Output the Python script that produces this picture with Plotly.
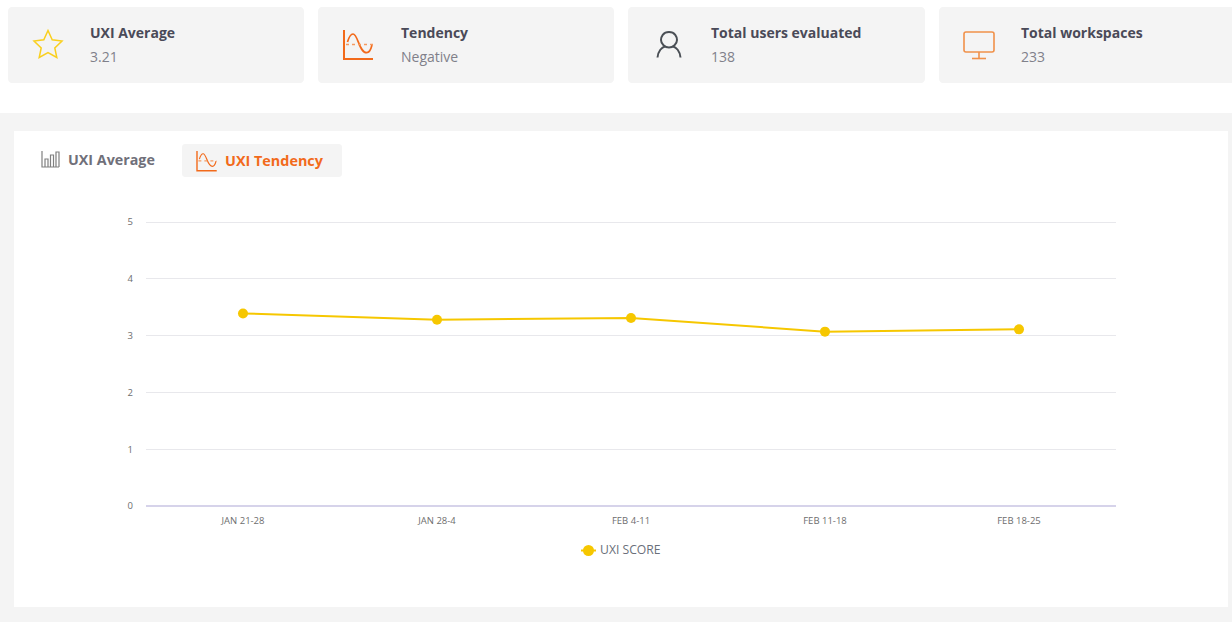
import plotly.graph_objects as go

W, H = 1232, 622
categories = ["JAN 21-28", "JAN 28-4", "FEB 4-11", "FEB 11-18", "FEB 18-25"]
uxi_score = [3.39, 3.28, 3.31, 3.07, 3.11]
y_ticks = [0, 1, 2, 3, 4, 5]
card_titles = ["UXI Average", "Tendency", "Total users evaluated", "Total workspaces"]
card_values = ["3.21", "Negative", "138", "233"]
tab_labels = ["UXI Average", "UXI Tendency"]
series_name = "UXI SCORE"

FONT = "Open Sans"
YEL = "#f6c700"
ORG = "#f26a1b"


def X(p):
    return round(p / W, 5)


def Y(p):
    return round(1 - p / H, 5)


def path(*parts):
    out = []
    for part in parts:
        if isinstance(part, str):
            out.append(part)
        else:
            out.append(f"{X(part[0])},{Y(part[1])}")
    return " ".join(out)


def rrect(x0, y0, x1, y1, r=4):
    k = r * 0.45
    return path("M", (x0 + r, y0), "L", (x1 - r, y0),
                "C", (x1 - k, y0), (x1, y0 + k), (x1, y0 + r),
                "L", (x1, y1 - r),
                "C", (x1, y1 - k), (x1 - k, y1), (x1 - r, y1),
                "L", (x0 + r, y1),
                "C", (x0 + k, y1), (x0, y1 - k), (x0, y1 - r),
                "L", (x0, y0 + r),
                "C", (x0, y0 + k), (x0 + k, y0), (x0 + r, y0), "Z")


shapes = []


def fill(d, color):
    shapes.append(dict(type="path", xref="paper", yref="paper", path=d, fillcolor=color,
                       line=dict(width=0), layer="below"))


def stroke(d, color, w=1.5):
    shapes.append(dict(type="path", xref="paper", yref="paper", path=d,
                       line=dict(color=color, width=w), layer="below"))


def tendency_icon(x, y, s, w):
    P = lambda a, b: (x + a * s, y + b * s)
    stroke(path("M", P(0, 0), "L", P(0, 29), "L", P(29, 29)), ORG, w)
    stroke(path("M", P(3.5, 12), "C", P(5, 7), P(7, 4), P(9, 4),
                "C", P(14, 4), P(15, 22.7), P(22.7, 22.7), "C", P(25, 22.7), P(27, 19), P(28, 15)), ORG, w * 0.85)
    shapes.append(dict(type="path", xref="paper", yref="paper",
                       path=path("M", P(2, 14.5), "L", P(29, 14.5)),
                       line=dict(color="#f59a60", width=w * 0.8, dash="dot"), layer="below"))


# page background pieces
fill(path("M", (0, 113), "L", (W, 113), "L", (W, H), "L", (0, H), "Z"), "#f4f4f4")
fill(path("M", (14, 131), "L", (1228, 131), "L", (1228, 607), "L", (14, 607), "Z"), "#ffffff")

# KPI cards
card_x = [(8, 304), (318, 614), (628, 925), (939, 1240)]
for a, b in card_x:
    fill(rrect(a, 7, b, 83), "#f4f4f4")

# star icon
stroke(path("M", (48, 30.5), "L", (52.2, 39.8), "L", (62, 41), "L", (54.8, 48), "L", (56.8, 57.5),
            "L", (48, 52.7), "L", (39.2, 57.5), "L", (41.2, 48), "L", (34, 41), "L", (43.8, 39.8), "Z"),
       "#f9cf1e", 1.5)
tendency_icon(344, 30, 1.0, 2)
# user icon
stroke(path("M", (669, 32), "C", (675, 32), (677, 37), (677, 40), "C", (677, 44), (673, 47.5), (669, 47.5),
            "C", (665, 47.5), (661, 44), (661, 40), "C", (661, 37), (663, 32), (669, 32), "Z"), "#4a4f55", 2)
stroke(path("M", (657.5, 57.5), "C", (658, 51), (662, 47), (665, 46.5)), "#4a4f55", 2)
stroke(path("M", (680.5, 57.5), "C", (680, 51), (676, 47), (673, 46.5)), "#4a4f55", 2)
# monitor icon
stroke(rrect(964, 32, 994, 52, 2), "#f0914a", 1.6)
stroke(path("M", (979, 52), "L", (979, 58)), "#f0914a", 1.6)
stroke(path("M", (972, 58.5), "L", (986, 58.5)), "#f0914a", 1.6)

# tabs
fill(rrect(182, 144, 342, 177, 3), "#f4f4f4")
G = "#808080"
stroke(path("M", (42, 151), "L", (42, 167), "L", (59, 167)), G, 1.2)
for a, b, top in [(45, 48, 159), (50.5, 53.5, 155), (56, 59, 152)]:
    stroke(path("M", (a, 167), "L", (a, top), "L", (b, top), "L", (b, 167)), G, 1.2)
tendency_icon(197, 151, 0.68, 1.4)

# legend key
stroke(path("M", (581, 550.5), "L", (596, 550.5)), YEL, 2)
shapes.append(dict(type="circle", xref="paper", yref="paper", x0=X(583), x1=X(594), y0=Y(556), y1=Y(545),
                   fillcolor=YEL, line=dict(width=0), layer="below"))

annotations = []


def txt(px, py, s, size, color, bold=False, anchor="left"):
    annotations.append(dict(xref="paper", yref="paper", x=X(px), y=Y(py), text=f"<b>{s}</b>" if bold else s,
                            showarrow=False, xanchor=anchor, yanchor="middle", borderpad=0, borderwidth=0,
                            font=dict(family=FONT, size=size, color=color)))


text_x = [90, 401, 711, 1021]
for tx, title, value in zip(text_x, card_titles, card_values):
    txt(tx, 32, title, 14, "#4a4a58", bold=True)
    txt(tx, 56.5, value, 14, "#80808a")

txt(68, 160, tab_labels[0], 14.3, "#70707a", bold=True)
txt(225, 160.5, tab_labels[1], 14.4, ORG, bold=True)
txt(600, 550, series_name, 12.2, "#6a6f7a")

fig = go.Figure(go.Scatter(
    x=categories, y=uxi_score, mode="lines+markers", name=series_name, showlegend=False,
    line=dict(color=YEL, width=2), marker=dict(color=YEL, size=10),
))

PX_PER_UNIT = 56.8
Y_TOP = 5.02

fig.update_layout(
    width=W, height=H, autosize=False,
    margin=dict(l=0, r=0, t=0, b=0, pad=0, autoexpand=False),
    paper_bgcolor="#ffffff", plot_bgcolor="rgba(0,0,0,0)",
    font=dict(family=FONT),
    shapes=shapes, annotations=annotations,
    showlegend=False,
    xaxis=dict(domain=[X(146), X(1116)], type="category", range=[-0.5, 4.5], showgrid=False,
               showline=False, zeroline=False, ticks="", tickfont=dict(family=FONT, size=9.5, color="#6e6e6e"),
               anchor="y", ticklabelstandoff=8, automargin=False),
    yaxis=dict(domain=[Y(506), Y(506 - PX_PER_UNIT * Y_TOP)], range=[0, Y_TOP], tickvals=y_ticks, showgrid=True,
               gridcolor="#e8e8ec", gridwidth=1, zeroline=True, zerolinecolor="#d6d3ea", zerolinewidth=1.5,
               showline=False, ticks="", tickfont=dict(family=FONT, size=9.5, color="#6e6e6e"),
               anchor="x", ticklabelstandoff=12, automargin=False),
)

fig.write_html("out.html", config=dict(displayModeBar=False),
               post_script="document.body.style.margin='0';document.body.style.overflow='hidden';")
